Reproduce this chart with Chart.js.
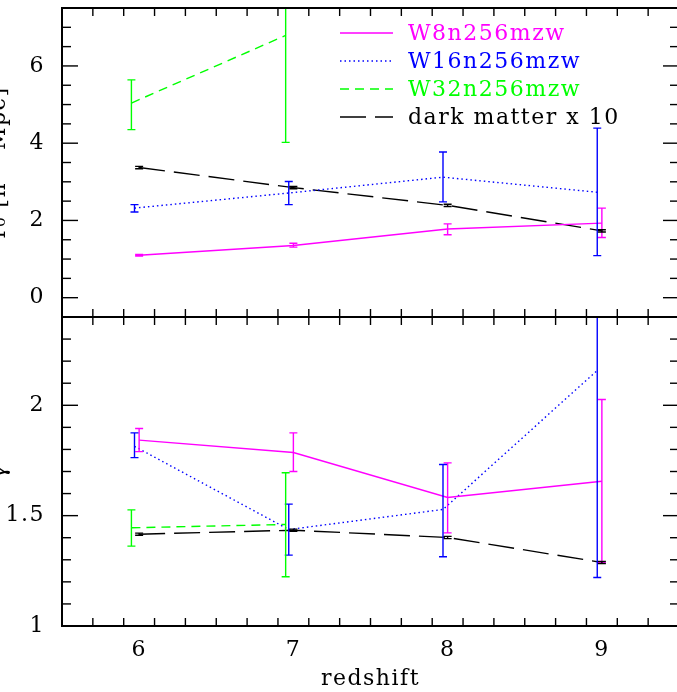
<!DOCTYPE html>
<html>
<head>
<meta charset="utf-8">
<script src="https://cdn.jsdelivr.net/npm/chart.js@4.4.0/dist/chart.umd.min.js"></script>
<style>
  html, body { margin: 0; padding: 0; background: #fff; overflow: hidden; }
  #wrap { position: relative; width: 677px; height: 692px; overflow: hidden; }
  #chart { position: absolute; left: -20px; top: 0; }
</style>
</head>
<body>
<div id="wrap"><canvas id="chart" width="720" height="692"></canvas></div>
<script>
// redshift of each point (runs are nudged a little so the error bars don't overlap)
const zW8 = [6, 7, 8, 9];
const zW16 = [5.97, 6.97, 7.97, 8.97];
const zW32 = [5.95, 6.95];
const zDM = [6, 7, 8, 9];

// top panel: r0
const r0W8 = [1.10, 1.35, 1.78, 1.93];
const r0W8Err = [[1.08, 1.12], [1.31, 1.41], [1.63, 1.91], [1.56, 2.32]];
const r0W16 = [2.32, 2.71, 3.12, 2.73];
const r0W16Err = [[2.22, 2.41], [2.41, 3.01], [2.48, 3.77], [1.09, 4.39]];
const r0W32 = [5.04, 6.79];
const r0W32Err = [[4.35, 5.64], [4.02, 9.6]];
const r0DM = [3.37, 2.85, 2.39, 1.73];
const r0DMErr = [[3.34, 3.40], [2.82, 2.88], [2.36, 2.42], [1.70, 1.76]];

// bottom panel: gamma
const gamW8 = [1.842, 1.786, 1.582, 1.656];
const gamW8Err = [[1.79, 1.895], [1.70, 1.875], [1.422, 1.739], [1.288, 2.026]];
const gamW16 = [1.814, 1.437, 1.528, 2.158];
const gamW16Err = [[1.763, 1.875], [1.321, 1.552], [1.314, 1.732], [1.22, 2.9]];
const gamW32 = [1.445, 1.46];
const gamW32Err = [[1.362, 1.526], [1.223, 1.694]];
const gamDM = [1.416, 1.434, 1.401, 1.288];
const gamDMErr = [[1.411, 1.421], [1.429, 1.439], [1.396, 1.406], [1.283, 1.293]];

// ticks
const xMajor = [6, 7, 8, 9];
const r0Ticks = [0, 2, 4, 6];
const gamTicks = [1, 1.5, 2];

const names = ["W8n256mzw", "W16n256mzw", "W32n256mzw", "dark matter x 10"];
const colors = ["#ff00ff", "#0000ff", "#00ff00", "#000000"];
const dashes = [[], [1.5, 3], [9, 6], [26, 9]];

function mk(i, zs, vals, errs, axis) {
  return {
    label: names[i],
    data: zs.map((z, k) => ({ x: z, y: vals[k] })),
    err: errs,
    yAxisID: axis,
    borderColor: colors[i],
    borderWidth: 1.4,
    borderDash: dashes[i],
    pointRadius: 0,
    tension: 0,
    fill: false,
  };
}

const serif = "'DejaVu Serif', serif";

const errorBars = {
  id: "errorBars",
  afterDatasetsDraw(chart) {
    const ctx = chart.ctx;
    const xs = chart.scales.x;
    chart.data.datasets.forEach((ds, i) => {
      const ys = chart.scales[ds.yAxisID];
      ctx.save();
      ctx.beginPath();
      ctx.rect(xs.left, ys.top, xs.right - xs.left, ys.bottom - ys.top);
      ctx.clip();
      ctx.strokeStyle = ds.borderColor;
      ctx.lineWidth = 1.4;
      ctx.setLineDash([]);
      ds.data.forEach((p, k) => {
        const px = xs.getPixelForValue(p.x);
        const lo = ys.getPixelForValue(ds.err[k][0]);
        const hi = ys.getPixelForValue(ds.err[k][1]);
        ctx.beginPath();
        ctx.moveTo(px, lo); ctx.lineTo(px, hi);
        ctx.moveTo(px - 4, lo); ctx.lineTo(px + 4, lo);
        ctx.moveTo(px - 4, hi); ctx.lineTo(px + 4, hi);
        ctx.stroke();
      });
      ctx.restore();
    });
  },
};

const frame = {
  id: "frame",
  beforeDraw(chart) {
    chart.ctx.letterSpacing = "1.5px";
  },
  afterDraw(chart) {
    const ctx = chart.ctx;
    const xs = chart.scales.x;
    const minorStep = { yTop: 0.5, yBot: 0.1 };
    const majors = { yTop: r0Ticks, yBot: gamTicks };
    ctx.save();
    ctx.strokeStyle = "#000";
    function seg(x1, y1, x2, y2) {
      ctx.beginPath(); ctx.moveTo(x1, y1); ctx.lineTo(x2, y2); ctx.stroke();
    }
    for (const id of ["yTop", "yBot"]) {
      const ys = chart.scales[id];
      const L = xs.left, R = xs.right, T = ys.top, B = ys.bottom;
      ctx.lineWidth = 1.4;
      let n = Math.round((xs.max - xs.min) / 0.2);
      for (let k = 1; k < n; k++) {
        const v = xs.min + k * 0.2;
        const len = xMajor.some(m => Math.abs(m - v) < 1e-6) ? 16 : 8;
        const px = xs.getPixelForValue(v);
        seg(px, B, px, B - len);
        seg(px, T, px, T + len);
      }
      const st = minorStep[id];
      n = Math.round((ys.max - ys.min) / st);
      for (let k = 1; k < n; k++) {
        const v = ys.min + k * st;
        const len = majors[id].some(m => Math.abs(m - v) < 1e-6) ? 16 : 9;
        const py = ys.getPixelForValue(v);
        seg(L, py, L + len, py);
        seg(R, py, R - len, py);
      }
      ctx.lineWidth = 2;
      ctx.strokeRect(L, T, R - L, B - T);
    }
    // legend
    const top = chart.data.datasets.filter(d => d.yAxisID === "yTop");
    ctx.font = "22px " + serif;
    ctx.textBaseline = "middle";
    ctx.textAlign = "left";
    top.forEach((ds, i) => {
      const y = 33 + i * 28;
      ctx.strokeStyle = ds.borderColor;
      ctx.lineWidth = 1.4;
      ctx.setLineDash(ds.borderDash);
      seg(360, y, 413, y);
      ctx.setLineDash([]);
      ctx.fillStyle = ds.borderColor;
      ctx.fillText(ds.label, 428, y + 1);
    });
    ctx.restore();
  },
};

function noPad(s) {
  s.paddingTop = 0; s.paddingBottom = 0; s.paddingLeft = 0; s.paddingRight = 0;
}

function yAxis(min, max, ticks, title) {
  return {
    type: "linear",
    position: "left",
    stack: "panels",
    stackWeight: 1,
    min: min,
    max: max,
    grid: { display: false, drawTicks: false },
    border: { display: false },
    afterBuildTicks: s => { s.ticks = ticks.map(v => ({ value: v })); },
    afterFit: s => { s.width = 82; noPad(s); },
    ticks: { color: "#000", padding: 17, font: { family: serif, size: 22 }, callback: v => String(v) },
    title: { display: true, text: title, color: "#000", padding: { top: 6, bottom: 0 }, font: { family: serif, size: 22 } },
  };
}

new Chart("chart", {
  type: "line",
  data: {
    datasets: [
      mk(0, zW8, r0W8, r0W8Err, "yTop"),
      mk(1, zW16, r0W16, r0W16Err, "yTop"),
      mk(2, zW32, r0W32, r0W32Err, "yTop"),
      mk(3, zDM, r0DM, r0DMErr, "yTop"),
      mk(0, zW8, gamW8, gamW8Err, "yBot"),
      mk(1, zW16, gamW16, gamW16Err, "yBot"),
      mk(2, zW32, gamW32, gamW32Err, "yBot"),
      mk(3, zDM, gamDM, gamDMErr, "yBot"),
    ],
  },
  options: {
    responsive: false,
    animation: false,
    layout: { padding: { left: 0, right: 21, top: 8, bottom: 0 } },
    plugins: { legend: { display: false }, tooltip: { enabled: false } },
    scales: {
      x: {
        type: "linear",
        position: "bottom",
        min: 5.5,
        max: 9.5,
        grid: { display: false, drawTicks: false },
        border: { display: false },
        afterBuildTicks: s => { s.ticks = xMajor.map(v => ({ value: v })); },
        afterFit: s => { s.height = 66; noPad(s); },
        ticks: { color: "#000", padding: 11, maxRotation: 0, font: { family: serif, size: 22 } },
        title: { display: true, text: "redshift", color: "#000", padding: 0, font: { family: serif, size: 22 } },
      },
      yBot: yAxis(1, 2.4, gamTicks, "γ"),
      yTop: yAxis(-0.5, 7.5, r0Ticks, "r₀ [h⁻¹ Mpc]"),
    },
  },
  plugins: [errorBars, frame],
});
</script>
</body>
</html>
